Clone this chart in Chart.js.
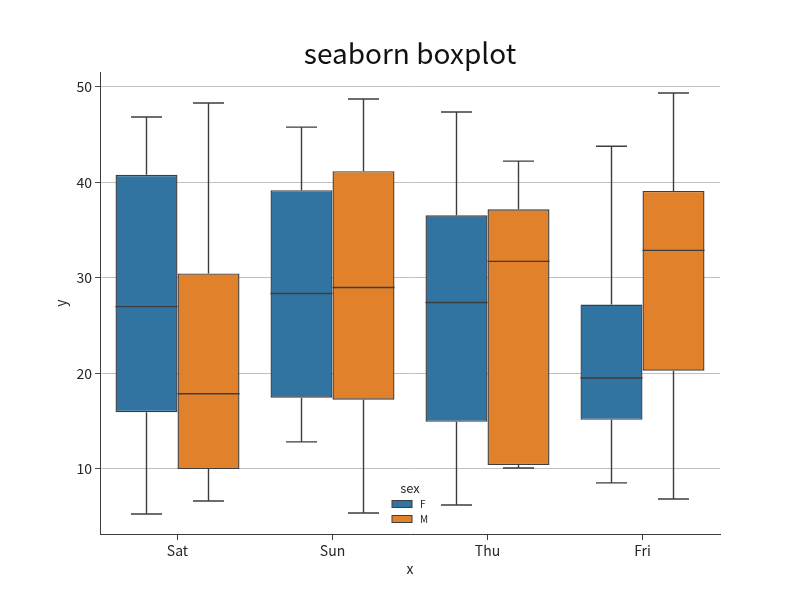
<!DOCTYPE html>
<html>
<head>
<meta charset="utf-8">
<script src="https://cdn.jsdelivr.net/npm/chart.js@4"></script>
<style>
html,body{margin:0;padding:0;background:#fff;}
#wrap{width:800px;height:600px;}
</style>
</head>
<body>
<div id="wrap"><canvas id="c" width="800" height="600"></canvas></div>
<script>
const categories = ['Sat', 'Sun', 'Thu', 'Fri'];
const seriesNames = ['F', 'M'];
// five-number summaries per category: [min, q1, median, q3, max]
const femaleMin = [5.28, 12.83, 6.22, 8.53];
const femaleQ1 = [15.93, 17.45, 14.93, 15.14];
const femaleMedian = [27.0, 28.37, 27.43, 19.52];
const femaleQ3 = [40.81, 39.19, 36.56, 27.22];
const femaleMax = [46.85, 45.8, 47.38, 43.8];
const maleMin = [6.64, 5.38, 10.1, 6.85];
const maleQ1 = [10.0, 17.24, 10.42, 20.29];
const maleMedian = [17.87, 29.0, 31.73, 32.89];
const maleQ3 = [30.47, 41.18, 37.19, 39.11];
const maleMax = [48.32, 48.74, 42.23, 49.37];
const yTicks = [10, 20, 30, 40, 50];

const FONT = '"Noto Sans CJK JP", "Noto Sans", sans-serif';
const EDGE = '#3d3d3d';
const COLORS = ['#3274a1', '#e1812c'];

const stats = [
  {min: femaleMin, q1: femaleQ1, med: femaleMedian, q3: femaleQ3, max: femaleMax},
  {min: maleMin, q1: maleQ1, med: maleMedian, q3: maleQ3, max: maleMax}
];

const whiskerPlugin = {
  id: 'whiskers',
  afterDatasetsDraw(chart) {
    const ctx = chart.ctx;
    const y = chart.scales.y;
    ctx.save();
    ctx.strokeStyle = EDGE;
    ctx.lineWidth = 1.4;
    stats.forEach((s, di) => {
      const meta = chart.getDatasetMeta(di);
      meta.data.forEach((bar, i) => {
        const cx = bar.x, w = bar.width;
        const left = cx - w / 2, right = cx + w / 2;
        const pMed = y.getPixelForValue(s.med[i]);
        const pQ1 = y.getPixelForValue(s.q1[i]);
        const pQ3 = y.getPixelForValue(s.q3[i]);
        const pMin = y.getPixelForValue(s.min[i]);
        const pMax = y.getPixelForValue(s.max[i]);
        ctx.beginPath();
        ctx.moveTo(left, pMed); ctx.lineTo(right, pMed);
        ctx.moveTo(cx, pQ3); ctx.lineTo(cx, pMax);
        ctx.moveTo(cx - w / 4, pMax); ctx.lineTo(cx + w / 4, pMax);
        ctx.moveTo(cx, pQ1); ctx.lineTo(cx, pMin);
        ctx.moveTo(cx - w / 4, pMin); ctx.lineTo(cx + w / 4, pMin);
        ctx.stroke();
      });
    });
    ctx.restore();
  }
};

const titlePlugin = {
  id: 'axTitle',
  afterDraw(chart) {
    const ctx = chart.ctx;
    const cx = (chart.chartArea.left + chart.chartArea.right) / 2;
    ctx.save();
    ctx.fillStyle = '#111';
    ctx.font = '28px ' + FONT;
    ctx.textAlign = 'center';
    ctx.textBaseline = 'middle';
    ctx.fillText('seaborn boxplot', cx, 53);
    ctx.restore();
  }
};

const legendPlugin = {
  id: 'innerLegend',
  afterDraw(chart) {
    const ctx = chart.ctx;
    const cx = (chart.chartArea.left + chart.chartArea.right) / 2;
    ctx.save();
    ctx.fillStyle = '#262626';
    ctx.font = '13px ' + FONT;
    ctx.textAlign = 'center';
    ctx.textBaseline = 'middle';
    ctx.fillText('sex', cx, 488);
    ctx.font = '10px ' + FONT;
    ctx.textAlign = 'left';
    seriesNames.forEach((n, i) => {
      const yy = 504 + i * 15;
      ctx.fillStyle = COLORS[i];
      ctx.fillRect(cx - 18, yy - 3.5, 20, 7);
      ctx.strokeStyle = EDGE;
      ctx.lineWidth = 1;
      ctx.strokeRect(cx - 18, yy - 3.5, 20, 7);
      ctx.fillStyle = '#262626';
      ctx.fillText(n, cx + 10, yy);
    });
    ctx.restore();
  }
};

const datasets = stats.map((s, di) => ({
  label: seriesNames[di],
  data: categories.map((c, i) => [s.q1[i], s.q3[i]]),
  backgroundColor: COLORS[di],
  borderColor: EDGE,
  borderWidth: 1.4,
  borderSkipped: false,
  categoryPercentage: 0.8,
  barPercentage: 1.0
}));

new Chart(document.getElementById('c'), {
  type: 'bar',
  data: {labels: categories, datasets},
  options: {
    responsive: false,
    animation: false,
    layout: {padding: {left: 52, right: 80, top: 72, bottom: 23}},
    plugins: {
      legend: {display: false},
      tooltip: {enabled: false},
      title: {display: false}
    },
    scales: {
      x: {
        grid: {display: true, drawOnChartArea: false, drawTicks: true, offset: false, tickLength: 6, tickColor: EDGE},
        border: {color: EDGE, width: 1},
        ticks: {color: '#262626', font: {family: FONT, size: 14}, padding: 2},
        title: {display: true, text: 'x', color: '#262626', font: {family: FONT, size: 14}, padding: {top: 4, bottom: 0}},
        afterFit(s) { s.height = 43; }
      },
      y: {
        min: 3.18,
        max: 51.57,
        afterBuildTicks(s) { s.ticks = yTicks.map(v => ({value: v})); },
        grid: {color: '#b9b9b9', lineWidth: 0.9, tickLength: 5, tickColor: EDGE},
        border: {color: EDGE, width: 1},
        ticks: {color: '#262626', font: {family: FONT, size: 14}, padding: 3},
        title: {display: true, text: 'y', color: '#262626', font: {family: FONT, size: 14}, padding: {top: 0, bottom: 0}},
        afterFit(s) { s.width = 48; }
      }
    }
  },
  plugins: [whiskerPlugin, titlePlugin, legendPlugin]
});
</script>
</body>
</html>
